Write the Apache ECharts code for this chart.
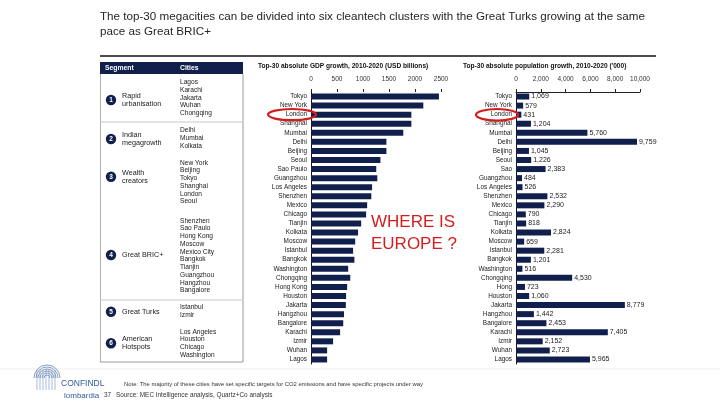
<!DOCTYPE html>
<html>
<head>
<meta charset="utf-8">
<script src="https://cdn.jsdelivr.net/npm/echarts@6/dist/echarts.min.js"></script>
<style>html,body{margin:0;padding:0;background:#fff}#c{width:720px;height:405px}</style>
</head>
<body>
<div id="c"></div>
<script>
// ---- data ----
var gdpCities = ['Tokyo','New York','London','Shanghai','Mumbai','Delhi','Beijing','Seoul','Sao Paulo','Guangzhou','Los Angeles','Shenzhen','Mexico','Chicago','Tianjin','Kolkata','Moscow','Istanbul','Bangkok','Washington','Chongqing','Hong Kong','Houston','Jakarta','Hangzhou','Bangalore','Karachi','Izmir','Wuhan','Lagos'];
var gdpGrowth = [2460,2160,1930,1930,1775,1450,1450,1335,1255,1275,1175,1160,1080,1060,965,905,850,810,835,715,755,695,675,670,635,620,560,425,310,310];
var gdpTicks = [0,500,1000,1500,2000,2500];

var popCities = ['Tokyo','New York','London','Shanghai','Mumbai','Delhi','Beijing','Seoul','Sao','Guangzhou','Los Angeles','Shenzhen','Mexico','Chicago','Tianjin','Kolkata','Moscow','Istanbul','Bangkok','Washington','Chongqing','Hong','Houston','Jakarta','Hangzhou','Bangalore','Karachi','Izmir','Wuhan','Lagos'];
var popGrowth = [1069,579,431,1204,5760,9759,1045,1226,2383,484,526,2532,2290,790,818,2824,659,2281,1201,516,4530,723,1060,8779,1442,2453,7405,2152,2723,5965];
var popTicks = [0,2000,4000,6000,8000,10000];

var segmentNumbers = ['1','2','3','4','5','6'];
var segmentNames = [['Rapid','urbanisation'],['Indian','megagrowth'],['Wealth','creators'],['Great BRIC+'],['Great Turks'],['American','Hotspots']];
var segmentCities = [
  ['Lagos','Karachi','Jakarta','Wuhan','Chongqing'],
  ['Delhi','Mumbai','Kolkata'],
  ['New York','Beijing','Tokyo','Shanghai','London','Seoul'],
  ['Shenzhen','Sao Paulo','Hong Kong','Moscow','Mexico City','Bangkok','Tianjin','Guangzhou','Hangzhou','Bangalore'],
  ['Istanbul','Izmir'],
  ['Los Angeles','Houston','Chicago','Washington']
];

var titleLines = ['The top-30 megacities can be divided into six cleantech clusters with the Great Turks growing at the same','pace as Great BRIC+'];
var gdpTitle = 'Top-30 absolute GDP growth, 2010-2020 (USD billions)';
var popTitle = "Top-30 absolute population growth, 2010-2020 ('000)";
var noteText = 'Note: The majority of these cities have set specific targets for CO2 emissions and have specific projects under way';
var sourceText = 'Source: MEC Intelligence analysis, Quartz+Co analysis';

// ---- layout (styling only) ----
var FONT = '"Liberation Sans", Arial, sans-serif';
var NAVY = '#111f4c';
var segCircleY = [100, 139, 176.7, 255, 311.7, 343.3];
var segCityY0 = [82.3, 130.5, 162.7, 220.7, 307.5, 331.7];
var CITY_STEP = 7.75;

var chart = echarts.init(document.getElementById('c'), null, {renderer:'canvas'});

var graphics = [];
function txt(x,y,s,o){
  o = o||{};
  graphics.push({type:'text', x:x, y:y, silent:true, z:o.z||10, style:{
    text:s, fill:o.color||'#222', font:(o.weight||'normal')+' '+(o.size||7)+'px '+FONT,
    textAlign:o.align||'left', textVerticalAlign:'middle'}});
}
function line(x1,y1,x2,y2,c,w){
  graphics.push({type:'line', silent:true, z:5, shape:{x1:x1,y1:y1,x2:x2,y2:y2}, style:{stroke:c, lineWidth:w}});
}
// title
txt(100,17,titleLines[0],{size:11.65,color:'#262626'});
txt(100,32,titleLines[1],{size:11.65,color:'#262626'});
line(100,56,656,56,'#111',1.5);

// table
graphics.push({type:'rect', silent:true, z:4, shape:{x:100,y:62,width:143,height:12}, style:{fill:NAVY}});
txt(105,68,'Segment',{size:6.8,weight:'bold',color:'#fff'});
txt(180,68,'Cities',{size:6.8,weight:'bold',color:'#fff'});
line(100.5,74,100.5,362,'#b0b0b0',1);
line(243,74,243,362,'#9a9a9a',1);
line(100,362,243,362,'#9a9a9a',1);
line(100,122,243,122,'#c8c8c8',1);
line(100,300,243,300,'#c8c8c8',1);
for (var s=0;s<segmentNumbers.length;s++){
  var cy = segCircleY[s];
  graphics.push({type:'circle', silent:true, z:6, shape:{cx:111,cy:cy,r:5.2}, style:{fill:NAVY}});
  txt(111,cy+0.3,segmentNumbers[s],{size:6.5,weight:'bold',color:'#fff',align:'center'});
  var nm = segmentNames[s];
  for (var k=0;k<nm.length;k++){
    txt(122, cy + (k-(nm.length-1)/2)*8, nm[k], {size:7.2,color:'#1a1a1a'});
  }
  var cs = segmentCities[s];
  for (var j=0;j<cs.length;j++){
    txt(180, segCityY0[s]+j*CITY_STEP, cs[j], {size:6.6,color:'#1a1a1a'});
  }
}

// chart titles
txt(258,66,gdpTitle,{size:6.6,weight:'bold',color:'#111'});
txt(463,66,popTitle,{size:6.6,weight:'bold',color:'#111'});

// red highlights
graphics.push({type:'ellipse', silent:true, z:20, shape:{cx:292,cy:114.6,rx:24,ry:5.6}, style:{fill:'none',stroke:'#d41e1e',lineWidth:2.2}});
graphics.push({type:'ellipse', silent:true, z:20, shape:{cx:497,cy:114.8,rx:21,ry:5.8}, style:{fill:'none',stroke:'#d41e1e',lineWidth:2.2}});
txt(371,222,'WHERE IS',{size:17,color:'#d41e1e'});
txt(371,244,'EUROPE ?',{size:17,color:'#d41e1e'});

// footer
line(0,369,720,369,'#efefef',1);
// logo sketch
for (var q=0;q<6;q++){
  graphics.push({type:'arc', silent:true, z:5, shape:{cx:47,cy:378,r:3+q*2,startAngle:Math.PI,endAngle:2*Math.PI}, style:{stroke:'#4f74a8',lineWidth:0.7,fill:'none'}});
}
for (var v=0;v<7;v++){
  line(37+v*3,370,37+v*3,390,'#6f8fbc',0.6);
}
txt(61,384,'CONFINDL',{size:8.5,color:'#2f5d9a'});
txt(64,396,'lombardia',{size:8,color:'#2f5d9a'});
txt(124,384,noteText,{size:5.9,color:'#333'});
txt(104,395,'37',{size:6.4,color:'#333'});
txt(116,395,sourceText,{size:6.4,color:'#333'});

function numFmt(v){ return v.toLocaleString('en-US'); }

var option = {
  animation:false,
  backgroundColor:'#fff',
  textStyle:{fontFamily:FONT},
  grid:[
    {left:311, top:92, width:130, height:272, containLabel:false},
    {left:516, top:92, width:124, height:272, containLabel:false}
  ],
  xAxis:[
    {type:'value', gridIndex:0, position:'top', min:gdpTicks[0], max:gdpTicks[gdpTicks.length-1], interval:gdpTicks[1]-gdpTicks[0],
     axisLine:{show:false}, axisTick:{show:true, length:3, lineStyle:{color:'#222'}}, splitLine:{show:false},
     axisLabel:{fontSize:6.5, color:'#333', margin:9, fontFamily:FONT, formatter:function(v){return String(v);}}},
    {type:'value', gridIndex:1, position:'top', min:popTicks[0], max:popTicks[popTicks.length-1], interval:popTicks[1]-popTicks[0],
     axisLine:{show:true, lineStyle:{color:'#222', width:1}}, axisTick:{show:true, length:3, lineStyle:{color:'#222'}}, splitLine:{show:false},
     axisLabel:{fontSize:6.5, color:'#333', margin:9, fontFamily:FONT, formatter:function(v){return numFmt(v);}}}
  ],
  yAxis:[
    {type:'category', gridIndex:0, data:gdpCities, inverse:true, axisLine:{show:true, lineStyle:{color:'#111', width:1}},
     axisTick:{show:false}, axisLabel:{fontSize:6.4, color:'#1a1a1a', margin:4, fontFamily:FONT, interval:0}},
    {type:'category', gridIndex:1, data:popCities, inverse:true, axisLine:{show:true, lineStyle:{color:'#111', width:1}},
     axisTick:{show:false}, axisLabel:{fontSize:6.4, color:'#1a1a1a', margin:4, fontFamily:FONT, interval:0}}
  ],
  series:[
    {type:'bar', xAxisIndex:0, yAxisIndex:0, data:gdpGrowth, barWidth:6, itemStyle:{color:NAVY}, silent:true},
    {type:'bar', xAxisIndex:1, yAxisIndex:1, data:popGrowth, barWidth:6, itemStyle:{color:NAVY}, silent:true,
     label:{show:true, position:'right', distance:2, fontSize:7, color:'#222', fontFamily:FONT, formatter:function(p){return numFmt(p.value);}}}
  ],
  graphic:graphics
};
chart.setOption(option);
</script>
</body>
</html>
